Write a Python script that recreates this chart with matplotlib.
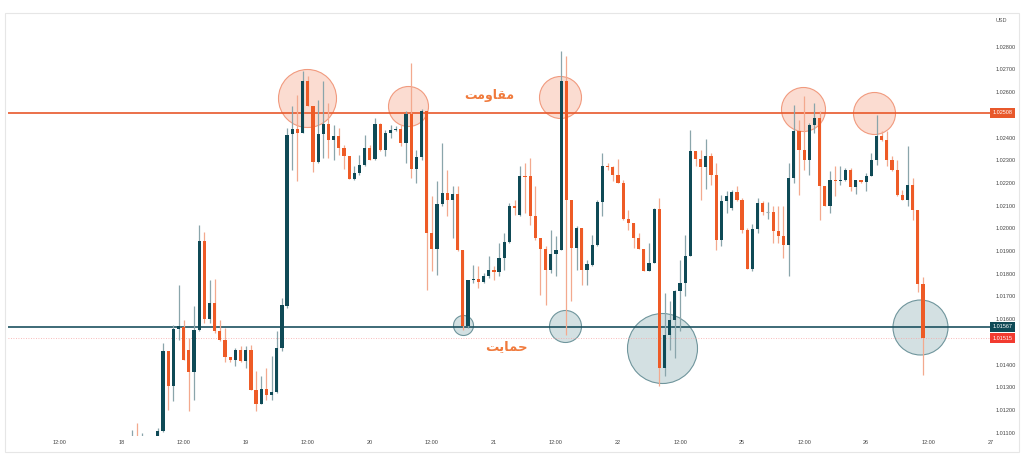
import matplotlib
matplotlib.use('Agg')
import matplotlib.pyplot as plt
from matplotlib.patches import Rectangle
from matplotlib.transforms import blended_transform_factory

# hourly EUR/USD style candles, None = no bar
opens = [1.01078, 1.01085, 1.01081, None, None,
         1.01078, 1.01107, 1.01459, 1.01305, 1.01558, 1.01567, 1.01466, 1.01366, 1.01554, 1.01943,
         1.01601, 1.01672, 1.01547, 1.01507, 1.01434, 1.01422, 1.01466, 1.01415, 1.01466, 1.01287,
         1.01228, 1.01293, 1.01264, 1.01281, 1.01474, 1.01657, 1.02416, 1.02437, 1.02420, 1.02647,
         1.02537, 1.02290, 1.02416, 1.02459, 1.02390, 1.02405, 1.02356, 1.02317, 1.02217, 1.02244,
         1.02280, 1.02354, 1.02305, 1.02459, 1.02346, 1.02422, 1.02434, 1.02438, 1.02378, 1.02503,
         1.02261, 1.02314, 1.02515, 1.01980, 1.01909, 1.02108, 1.02156, 1.02126, 1.02151, 1.01906,
         1.01572, 1.01774, 1.01777, 1.01764, 1.01789, 1.01818, 1.01808, 1.01870, 1.01938, 1.02100,
         1.02060, 1.02232, 1.02229, 1.02056, 1.01958, 1.01909, 1.01818, 1.01888, 1.01903, 1.02651,
         1.02123, 1.01914, 1.02002, 1.01818, 1.01840, 1.01928, 1.02114, 1.02273, 1.02268, 1.02236,
         1.02200, 1.02041, 1.02024, 1.01958, 1.01910, 1.01811, 1.01848, 1.02085, 1.01386, 1.01532,
         1.01598, 1.01723, 1.01760, 1.01877, 1.02339, 1.02305, 1.02270, 1.02320, 1.02236, 1.01950,
         1.02122, 1.02090, 1.02158, 1.02126, 1.01994, 1.01822, 1.01997, 1.02112, 1.02070, 1.02070,
         1.01987, 1.01965, 1.01928, 1.02222, 1.02430, 1.02346, 1.02299, 1.02456, 1.02486, 1.02185,
         1.02097, 1.02214, 1.02207, 1.02214, 1.02255, 1.02182, 1.02211, 1.02202, 1.02232, 1.02302,
         1.02408, 1.02387, 1.02302, 1.02255, 1.02148, 1.02126, 1.02192, 1.02079, 1.01756]
highs = [1.01114, 1.01144, 1.01100, None, None,
         1.01122, 1.01496, 1.01459, 1.01576, 1.01752, 1.01598, 1.01519, 1.01660, 1.02016, 1.01982,
         1.01774, 1.01778, 1.01598, 1.01562, 1.01434, 1.01475, 1.01484, 1.01481, 1.01485, 1.01371,
         1.01349, 1.01387, 1.01437, 1.01547, 1.01694, 1.02442, 1.02537, 1.02588, 1.02691, 1.02669,
         1.02537, 1.02566, 1.02647, 1.02552, 1.02456, 1.02442, 1.02368, 1.02317, 1.02273, 1.02324,
         1.02412, 1.02368, 1.02488, 1.02464, 1.02434, 1.02456, 1.02449, 1.02456, 1.02515, 1.02730,
         1.02346, 1.02525, 1.02515, 1.02141, 1.02207, 1.02376, 1.02258, 1.02185, 1.02185, 1.01906,
         1.01774, 1.01840, 1.01833, 1.01804, 1.01877, 1.01833, 1.01936, 1.01980, 1.02112, 1.02126,
         1.02273, 1.02287, 1.02310, 1.02185, 1.01958, 1.01921, 1.01991, 1.01965, 1.02783, 1.02757,
         1.02126, 1.02009, 1.02002, 1.01862, 1.01972, 1.02126, 1.02332, 1.02287, 1.02273, 1.02305,
         1.02214, 1.02082, 1.02024, 1.01980, 1.01910, 1.01936, 1.02090, 1.02134, 1.01716, 1.01679,
         1.01730, 1.01862, 1.01972, 1.02434, 1.02339, 1.02346, 1.02393, 1.02332, 1.02287, 1.02148,
         1.02163, 1.02170, 1.02188, 1.02134, 1.02002, 1.02020, 1.02134, 1.02119, 1.02114, 1.02097,
         1.02097, 1.02097, 1.02287, 1.02544, 1.02478, 1.02581, 1.02464, 1.02552, 1.02515, 1.02185,
         1.02251, 1.02273, 1.02273, 1.02266, 1.02266, 1.02211, 1.02211, 1.02244, 1.02332, 1.02500,
         1.02427, 1.02427, 1.02317, 1.02302, 1.02170, 1.02364, 1.02222, 1.02079, 1.01786]
lows = [1.01078, 1.01078, 1.01070, None, None,
        1.01078, 1.01104, 1.01202, 1.01239, 1.01510, 1.01422, 1.01195, 1.01243, 1.01547, 1.01584,
        1.01584, 1.01540, 1.01503, 1.01410, 1.01410, 1.01393, 1.01413, 1.01387, 1.01287, 1.01195,
        1.01228, 1.01246, 1.01246, 1.01276, 1.01459, 1.01650, 1.02258, 1.02207, 1.02420, 1.02537,
        1.02246, 1.02287, 1.02310, 1.02310, 1.02302, 1.02324, 1.02261, 1.02217, 1.02214, 1.02236,
        1.02273, 1.02302, 1.02302, 1.02339, 1.02317, 1.02398, 1.02427, 1.02361, 1.02287, 1.02222,
        1.02200, 1.02302, 1.01730, 1.01811, 1.01796, 1.02097, 1.02053, 1.01958, 1.01899, 1.01554,
        1.01562, 1.01760, 1.01738, 1.01760, 1.01782, 1.01771, 1.01789, 1.01818, 1.01936, 1.02060,
        1.02053, 1.02068, 1.02016, 1.01950, 1.01708, 1.01664, 1.01804, 1.01789, 1.01903, 1.01532,
        1.01679, 1.01818, 1.01752, 1.01752, 1.01833, 1.01921, 1.02053, 1.02258, 1.02207, 1.02200,
        1.02038, 1.01994, 1.01914, 1.01909, 1.01811, 1.01811, 1.01848, 1.01305, 1.01349, 1.01466,
        1.01430, 1.01547, 1.01701, 1.01877, 1.02273, 1.02126, 1.02173, 1.02192, 1.01906, 1.01921,
        1.02068, 1.02082, 1.02119, 1.01980, 1.01821, 1.01811, 1.01980, 1.02060, 1.02041, 1.01936,
        1.01936, 1.01870, 1.01789, 1.02200, 1.02148, 1.02258, 1.02236, 1.02420, 1.02038, 1.02097,
        1.02068, 1.02141, 1.02192, 1.02207, 1.02163, 1.02152, 1.02200, 1.02163, 1.02229, 1.02280,
        1.02383, 1.02273, 1.02251, 1.02141, 1.02126, 1.02097, 1.02038, 1.01718, 1.01356]
closes = [1.01085, 1.01078, 1.01081, None, None,
          1.01107, 1.01459, 1.01305, 1.01557, 1.01569, 1.01422, 1.01366, 1.01551, 1.01943, 1.01601,
          1.01672, 1.01547, 1.01510, 1.01434, 1.01422, 1.01466, 1.01415, 1.01466, 1.01287, 1.01228,
          1.01293, 1.01264, 1.01281, 1.01474, 1.01664, 1.02412, 1.02437, 1.02420, 1.02647, 1.02537,
          1.02290, 1.02416, 1.02459, 1.02390, 1.02405, 1.02356, 1.02317, 1.02217, 1.02244, 1.02280,
          1.02354, 1.02302, 1.02459, 1.02343, 1.02422, 1.02434, 1.02438, 1.02378, 1.02503, 1.02261,
          1.02314, 1.02515, 1.01980, 1.01909, 1.02108, 1.02156, 1.02126, 1.02151, 1.01906, 1.01569,
          1.01774, 1.01777, 1.01764, 1.01789, 1.01818, 1.01808, 1.01870, 1.01938, 1.02100, 1.02090,
          1.02232, 1.02226, 1.02056, 1.01958, 1.01909, 1.01818, 1.01888, 1.01903, 1.02651, 1.02123,
          1.01914, 1.02002, 1.01818, 1.01844, 1.01928, 1.02114, 1.02273, 1.02268, 1.02236, 1.02200,
          1.02041, 1.02024, 1.01958, 1.01910, 1.01811, 1.01848, 1.02085, 1.01386, 1.01532, 1.01598,
          1.01723, 1.01760, 1.01877, 1.02339, 1.02305, 1.02271, 1.02320, 1.02236, 1.01950, 1.02122,
          1.02144, 1.02158, 1.02126, 1.01994, 1.01822, 1.01997, 1.02112, 1.02070, 1.02070, 1.01987,
          1.01965, 1.01928, 1.02222, 1.02430, 1.02346, 1.02299, 1.02456, 1.02486, 1.02185, 1.02097,
          1.02214, 1.02207, 1.02214, 1.02255, 1.02182, 1.02211, 1.02202, 1.02232, 1.02302, 1.02408,
          1.02387, 1.02302, 1.02255, 1.02148, 1.02126, 1.02192, 1.02079, 1.01756, 1.01515]

# hours counted from 18th 00:00 (weekend removed), first bar at 02:00
first_hour = 2
hours = [first_hour + i for i in range(len(closes))]

tick_hours = [-12, 0, 12, 24, 36, 48, 60, 72, 84, 96, 108, 120, 132, 144, 156, 168]
tick_labels = ['12:00', '18', '12:00', '19', '12:00', '20', '12:00', '21', '12:00', '22',
               '12:00', '25', '12:00', '26', '12:00', '27']
# 1.025 and 1.015 sit under the price boxes, so they are left out
price_ticks = [1.011, 1.012, 1.013, 1.014, 1.016, 1.017, 1.018, 1.019,
               1.020, 1.021, 1.022, 1.023, 1.024, 1.026, 1.027, 1.028]

resistance = 1.02508
support = 1.01567
last_price = 1.01515

# highlighted touches: (hour, price, radius px)
res_circles = [(35.9, 1.02575, 29), (55.4, 1.02540, 20), (84.8, 1.02579, 21),
               (131.8, 1.02526, 22), (145.6, 1.02509, 21)]
sup_circles = [(66.0, 1.01576, 10), (85.75, 1.01572, 16), (104.6, 1.01475, 35),
               (154.4, 1.01565, 27.5)]

# shaped Persian labels (presentation forms, visual order)
label_res = '\uFE96\uFEE3\uFEED\uFE8E\uFED8\uFEE3'   # مقاومت
label_sup = '\uFE96\uFBFE\uFE8E\uFEE4\uFEA3'         # حمایت

TEAL = '#0f4a56'
ORANGE = '#ee5b26'
TEAL_WICK = '#8aa5ab'
ORANGE_WICK = '#f3a98e'

fig = plt.figure(figsize=(10.24, 4.70), dpi=100)
ax = fig.add_axes([7.9 / 1024, 34 / 470, 983.4 / 1024, 423 / 470])

fig.patches.append(Rectangle((5 / 1024, 18 / 470), 1014 / 1024, 439 / 470,
                             transform=fig.transFigure, fill=False,
                             edgecolor='#e6e6e6', linewidth=0.8))

for h, o, hi, lo, c in zip(hours, opens, highs, lows, closes):
    if c is None:
        continue
    up = c >= o
    ax.vlines(h, lo, hi, color=TEAL_WICK if up else ORANGE_WICK, linewidth=0.9, zorder=3)
    if abs(c - o) < 0.00002:
        ax.hlines(c, h - 0.3, h + 0.3, color='#9aaeb3', linewidth=0.8, zorder=4)
    else:
        ax.bar(h, c - o, bottom=o, width=0.62, color=TEAL if up else ORANGE,
               linewidth=0, zorder=4)

for h, p, r in res_circles:
    ax.scatter([h], [p], s=(2 * r * 0.72) ** 2, facecolor='#fbdcd1',
               edgecolor='#f19a7e', linewidth=0.8, zorder=1)
for h, p, r in sup_circles:
    ax.scatter([h], [p], s=(2 * r * 0.72) ** 2, facecolor='#d3e0e2',
               edgecolor='#6f959c', linewidth=0.8, zorder=1)

ax.axhline(resistance, color='#e8582b', linewidth=1.2, zorder=2)
ax.axhline(support, color='#1d5260', linewidth=1.2, zorder=2)
ax.axhline(last_price, color='#f7a5a5', linewidth=0.6, linestyle=(0, (1, 2)), zorder=2)

ax.set_xlim(-22, 168.2)
ax.set_ylim(1.010855, 1.029484)

ax.set_xticks(tick_hours)
ax.set_xticklabels(tick_labels)
ax.set_yticks(price_ticks)
ax.set_yticklabels([f'{p:.5f}' for p in price_ticks])
ax.yaxis.tick_right()
ax.tick_params(axis='both', length=0, labelsize=4, labelcolor='#444444')
ax.tick_params(axis='y', pad=3)
ax.tick_params(axis='x', pad=3)
for lab in ax.get_xticklabels() + ax.get_yticklabels():
    lab.set_family('Liberation Sans')
for s in ax.spines.values():
    s.set_visible(False)

# price labels on the scale
tr = blended_transform_factory(fig.transFigure, ax.transData)
for p, bg in [(resistance, '#e8582b'), (support, '#0f4a56'), (last_price, '#f23b30')]:
    ax.text(1002.5 / 1024, p, f'{p:.5f}', transform=tr, fontsize=4, family='Liberation Sans',
            color='white', ha='center', va='center', zorder=10, clip_on=False,
            bbox=dict(boxstyle='square,pad=0.45', facecolor=bg, edgecolor='none'))

fig.text(1001 / 1024, 1 - 20 / 470, 'USD', fontsize=4, family='Liberation Sans',
         color='#555555', ha='center', va='center')

fig.text(489 / 1024, 1 - 96 / 470, label_res, fontsize=9, fontweight='bold',
         color='#f07a3c', family='DejaVu Sans', ha='center', va='center')
fig.text(506 / 1024, 1 - 347 / 470, label_sup, fontsize=9.5, fontweight='bold',
         color='#f07a3c', family='DejaVu Sans', ha='center', va='center')

fig.savefig('out.png', dpi=100, facecolor='white')
